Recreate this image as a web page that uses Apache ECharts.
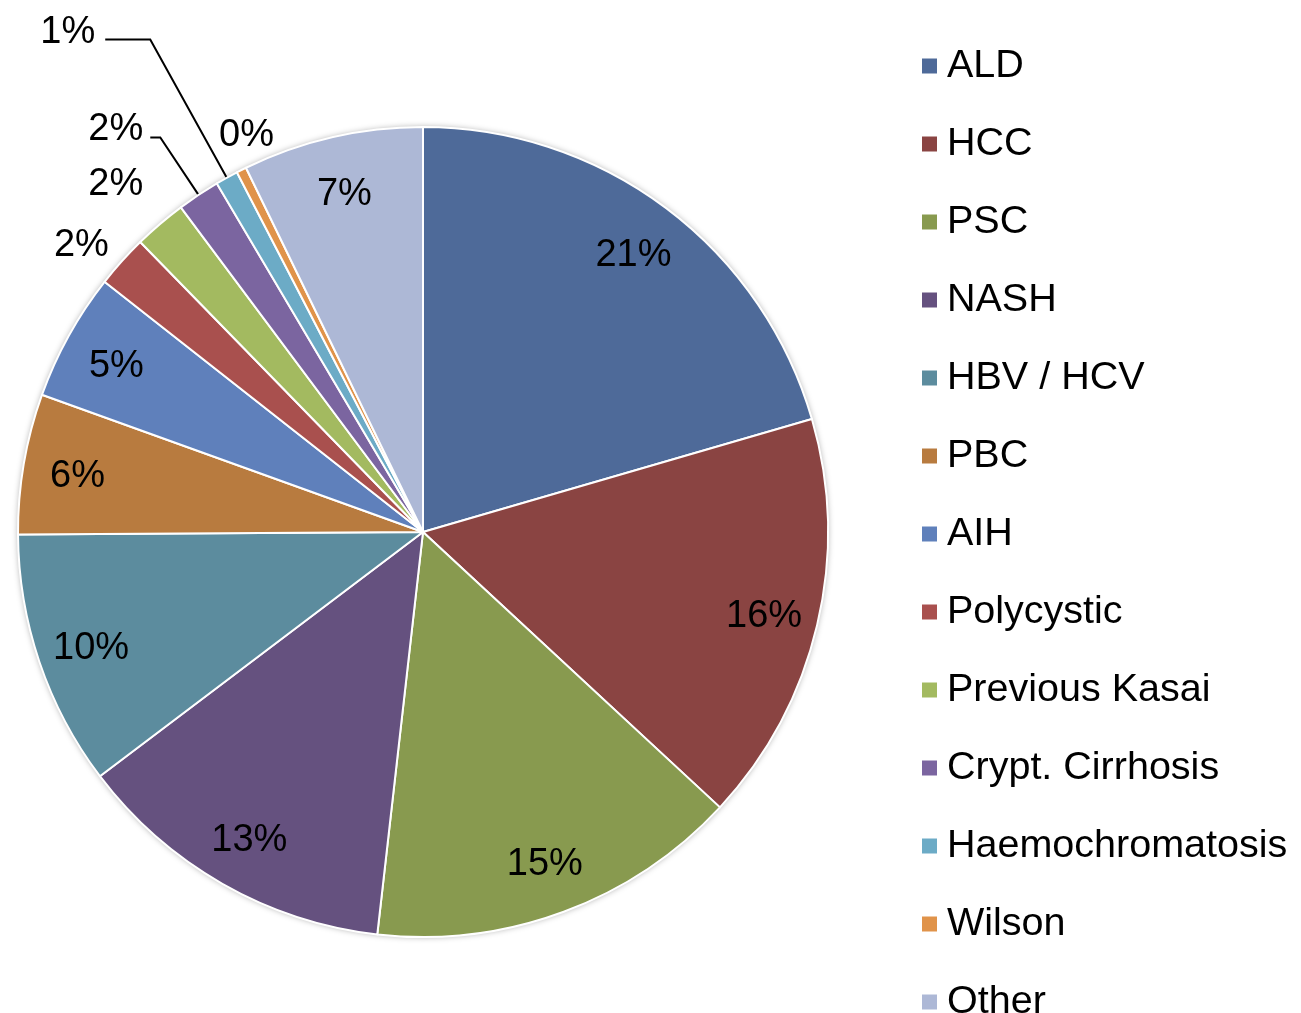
<!DOCTYPE html>
<html>
<head>
<meta charset="utf-8">
<script src="https://cdn.jsdelivr.net/npm/echarts@6/dist/echarts.min.js"></script>
<style>
html,body{margin:0;padding:0;background:#fff;}
#chart{width:1301px;height:1013px;}
</style>
</head>
<body>
<div id="chart"></div>
<script>
// ---- data ----
const categories = ['ALD', 'HCC', 'PSC', 'NASH', 'HBV / HCV', 'PBC', 'AIH', 'Polycystic',
  'Previous Kasai', 'Crypt. Cirrhosis', 'Haemochromatosis', 'Wilson', 'Other'];
const values = [20.5, 16.4, 14.9, 12.9, 10.2, 5.6, 5.1, 2.1, 2.1, 1.7, 0.9, 0.4, 7.2];
const colors = ['#4E6A99', '#8A4442', '#889A4F', '#65517F', '#5C8C9E', '#B87B3F', '#5F80BB',
  '#A9504E', '#A3BA60', '#7B65A0', '#6CABC6', '#E0934A', '#ADB8D6'];

// ---- styling of the small outside labels (not data) ----
const outsideStyle = {
  'Polycystic':       { line: false, len: 24, len2: -11, lift: 0, gap: 6 },
  'Previous Kasai':   { line: false, len: 52, len2: -23, lift: 0, gap: 6 },
  'Crypt. Cirrhosis': { line: true,  len: 69, len2: 10,  lift: 16, gap: 7 },
  'Haemochromatosis': { line: true,  len: 158, len2: 45, lift: 14, gap: 10 },
  'Wilson':           { line: false, len: 39, len2: -56, lift: 0, gap: 6 }
};

const FONT = '"Liberation Sans", Arial, Helvetica, sans-serif';
const CENTER = [423, 532];
const R = 405;
const pct = p => Math.round(p.percent) + '%';
const txt = { fontFamily: FONT, fontSize: 38, color: '#000', lineHeight: 44 };

const mainData = categories.map((name, i) => {
  const item = { name, value: values[i], itemStyle: { color: colors[i] } };
  const st = outsideStyle[name];
  if (st) {
    item.label = {
      show: true, position: 'outside', distanceToLabelLine: st.gap,
      formatter: st.lift ? (p => '{t|' + pct(p) + '}\n{s| }') : (p => '{t|' + pct(p) + '}'),
      rich: { t: txt, s: { fontSize: 8, lineHeight: st.lift || 1 } }
    };
    item.labelLine = { show: st.line, length: st.len, length2: st.len2, smooth: false,
      lineStyle: { color: '#000', width: 2 } };
  }
  return item;
});

const overlayData = categories.map((name, i) => ({
  name, value: values[i],
  itemStyle: { color: 'rgba(0,0,0,0)', borderWidth: 0 },
  label: { show: !outsideStyle[name] }
}));

const chart = echarts.init(document.getElementById('chart'), null, { renderer: 'canvas' });
chart.setOption({
  animation: false,
  backgroundColor: '#fff',
  legend: {
    orient: 'vertical',
    left: 920,
    top: 46,
    height: 1000,
    padding: 0,
    data: categories,
    icon: 'rect',
    itemWidth: 17,
    itemHeight: 17,
    itemGap: 38,
    selectedMode: false,
    textStyle: {
      fontFamily: FONT, fontSize: 39.5, color: '#000',
      padding: [0, 0, 0, 4]
    }
  },
  series: [
    {
      type: 'pie', silent: true, z: 1,
      center: CENTER, radius: R,
      label: { show: false }, labelLine: { show: false },
      itemStyle: { color: '#fff', shadowBlur: 6, shadowColor: 'rgba(0,0,0,0.35)' },
      data: [{ value: 1, name: '__bg' }]
    },
    {
      type: 'pie', z: 2,
      center: CENTER, radius: R,
      startAngle: 90, clockwise: true,
      avoidLabelOverlap: false,
      itemStyle: { borderColor: '#fff', borderWidth: 2 },
      label: { show: false },
      labelLine: { show: false },
      emphasis: { disabled: true },
      data: mainData
    },
    {
      type: 'pie', z: 3, silent: true,
      center: CENTER, radius: [290, R],
      startAngle: 90, clockwise: true,
      avoidLabelOverlap: false,
      label: { show: true, position: 'inside',
        formatter: p => '{s| }\n{t|' + pct(p) + '}',
        rich: { t: txt, s: { fontSize: 8, lineHeight: 8 } } },
      labelLine: { show: false },
      emphasis: { disabled: true },
      data: overlayData
    }
  ]
});
</script>
</body>
</html>
